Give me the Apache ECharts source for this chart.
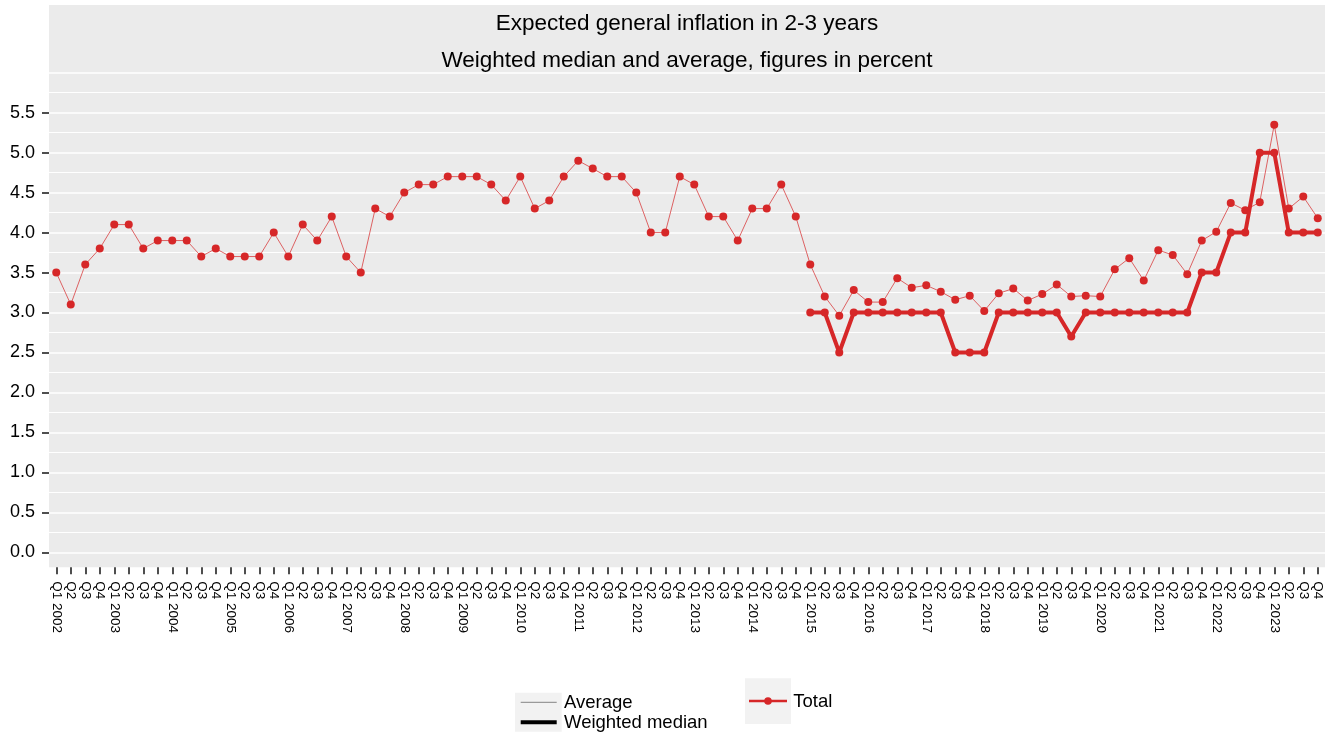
<!DOCTYPE html>
<html>
<head>
<meta charset="utf-8">
<script src="https://cdn.jsdelivr.net/npm/echarts@6/dist/echarts.min.js"></script>
<style>html,body{margin:0;padding:0;background:#fff}#c{width:1333px;height:736px}</style>
</head>
<body>
<div id="c"></div>
<script>
// ---------- data ----------
const years = [2002,2003,2004,2005,2006,2007,2008,2009,2010,2011,2012,2013,2014,2015,2016,2017,2018,2019,2020,2021,2022,2023];
const quarters = ['Q1','Q2','Q3','Q4'];
const categories = [];
years.forEach(function (y) { quarters.forEach(function (q) { categories.push(q === 'Q1' ? q + ' ' + y : q); }); });

const averageValues = [
  3.5,3.1,3.6,3.8, 4.1,4.1,3.8,3.9, 3.9,3.9,3.7,3.8, 3.7,3.7,3.7,4.0, 3.7,4.1,3.9,4.2, 3.7,3.5,4.3,4.2, 4.5,4.6,4.6,4.7,
  4.7,4.7,4.6,4.4, 4.7,4.3,4.4,4.7, 4.9,4.8,4.7,4.7, 4.5,4.0,4.0,4.7, 4.6,4.2,4.2,3.9, 4.3,4.3,4.6,4.2,
  3.6,3.2,2.96,3.28, 3.13,3.13,3.43,3.31, 3.34,3.26,3.16,3.21, 3.02,3.24,3.30,3.15, 3.23,3.35,3.20,3.21,
  3.20,3.54,3.68,3.40, 3.78,3.72,3.48,3.90, 4.01,4.37,4.28,4.38, 5.35,4.30,4.45,4.18
];
const medianStartCategory = 'Q1 2015';
const medianValues = [
  3.0,3.0,2.5,3.0, 3.0,3.0,3.0,3.0, 3.0,3.0,2.5,2.5, 2.5,3.0,3.0,3.0, 3.0,3.0,2.7,3.0,
  3.0,3.0,3.0,3.0, 3.0,3.0,3.0,3.5, 3.5,4.0,4.0,5.0, 5.0,4.0,4.0,4.0
];
const yTickValues = [0,0.5,1,1.5,2,2.5,3,3.5,4,4.5,5,5.5];
const titleLines = ['Expected general inflation in 2-3 years', 'Weighted median and average, figures in percent'];
const legendLabels = ['Average', 'Weighted median', 'Total'];

// ---------- layout / style ----------
const RED = '#D62728';
const PANEL = { left: 49, right: 1325, top: 5, bottom: 567.3 };
const Y0_PX = 552.3, YMAX_PX = 72.7, YMAX = 6;
const FONT = 'Liberation Sans, Arial, sans-serif';

const medianOffset = categories.indexOf(medianStartCategory);
const averageData = averageValues.map(function (v, i) { return [i, v]; });
const medianData = medianValues.map(function (v, i) { return [medianOffset + i, v]; });

const chart = echarts.init(document.getElementById('c'), null, { renderer: 'canvas' });
const option = {
  animation: false,
  backgroundColor: '#ffffff',
  title: [
    { text: titleLines[0], left: 687, top: 12.7, padding: 0, textAlign: 'center',
      textStyle: { fontSize: 22.5, fontWeight: 'normal', color: '#000', fontFamily: FONT } },
    { text: titleLines[1], left: 687, top: 49.3, padding: 0, textAlign: 'center',
      textStyle: { fontSize: 22.5, fontWeight: 'normal', color: '#000', fontFamily: FONT } }
  ],
  grid: [
    { left: PANEL.left, right: 1333 - PANEL.right, top: YMAX_PX, bottom: 736 - Y0_PX, containLabel: false },
    { left: PANEL.left, right: 1333 - PANEL.right, top: PANEL.bottom - 20, bottom: 736 - PANEL.bottom, containLabel: false }
  ],
  xAxis: [
    {
      type: 'category', gridIndex: 0, data: categories, boundaryGap: true,
      axisLine: { show: false }, axisTick: { show: false }, axisLabel: { show: false }, splitLine: { show: false }
    },
    {
      type: 'category', gridIndex: 1, data: categories, boundaryGap: true, position: 'bottom',
      axisLine: { show: false },
      axisTick: { show: true, alignWithLabel: true, interval: 0, length: 7, lineStyle: { color: '#222', width: 1.6 } },
      axisLabel: { interval: 0, rotate: -90, margin: 14, fontSize: 13.5, color: '#000', fontFamily: FONT },
      splitLine: { show: false }
    }
  ],
  yAxis: [
    {
      type: 'value', gridIndex: 0, min: 0, max: YMAX, interval: 0.5,
      axisLine: { show: false }, axisTick: { show: false }, axisLabel: { show: false },
      splitLine: { show: true, lineStyle: { color: '#ffffff', width: 1.6 } },
      minorTick: { show: false, splitNumber: 2 },
      minorSplitLine: { show: true, lineStyle: { color: '#ffffff', width: 1 } }
    },
    {
      type: 'value', gridIndex: 0, min: 0, max: YMAX, interval: 0.5, position: 'left',
      axisLine: { show: false },
      splitLine: { show: false },
      axisTick: { show: true, length: 7, customValues: yTickValues, lineStyle: { color: '#222', width: 1.6 } },
      axisLabel: { show: true, margin: 14, customValues: yTickValues, fontSize: 18, color: '#000', fontFamily: FONT,
        formatter: function (v) { return v < YMAX ? v.toFixed(1) : ''; } }
    },
    {
      type: 'value', gridIndex: 1, min: 0, max: 1, show: false,
      splitLine: { show: false }
    }
  ],
  graphic: [
    { type: 'rect', z: -100, silent: true,
      shape: { x: PANEL.left, y: PANEL.top, width: PANEL.right - PANEL.left, height: PANEL.bottom - PANEL.top },
      style: { fill: '#EBEBEB' } },
    // legend 1
    { type: 'rect', silent: true, shape: { x: 515, y: 692.7, width: 46.7, height: 39 }, style: { fill: '#F2F2F2' } },
    { type: 'line', silent: true, shape: { x1: 520.7, y1: 702.3, x2: 556.7, y2: 702.3 }, style: { stroke: '#9a9a9a', lineWidth: 1.2 } },
    { type: 'line', silent: true, shape: { x1: 520.7, y1: 722.3, x2: 556.7, y2: 722.3 }, style: { stroke: '#000', lineWidth: 4 } },
    { type: 'text', silent: true, x: 564, y: 702.9, style: { text: legendLabels[0], fill: '#000', font: '18.5px ' + FONT, textVerticalAlign: 'middle', textAlign: 'left' } },
    { type: 'text', silent: true, x: 564, y: 722.9, style: { text: legendLabels[1], fill: '#000', font: '18.5px ' + FONT, textVerticalAlign: 'middle', textAlign: 'left' } },
    // legend 2
    { type: 'rect', silent: true, shape: { x: 745, y: 678.3, width: 46, height: 45.7 }, style: { fill: '#F2F2F2' } },
    { type: 'line', silent: true, shape: { x1: 749, y1: 701, x2: 787, y2: 701 }, style: { stroke: RED, lineWidth: 2.5 } },
    { type: 'circle', silent: true, shape: { cx: 768, cy: 701, r: 3.8 }, style: { fill: RED } },
    { type: 'text', silent: true, x: 793.3, y: 701.9, style: { text: legendLabels[2], fill: '#000', font: '18.5px ' + FONT, textVerticalAlign: 'middle', textAlign: 'left' } }
  ],
  series: [
    {
      name: 'Average', type: 'line', data: averageData, xAxisIndex: 0, yAxisIndex: 0,
      symbol: 'circle', symbolSize: 8, showAllSymbol: true,
      lineStyle: { color: RED, width: 1, opacity: 0.7 },
      itemStyle: { color: RED },
      z: 3
    },
    {
      name: 'Weighted median', type: 'line', data: medianData, xAxisIndex: 0, yAxisIndex: 0,
      symbol: 'circle', symbolSize: 8, showAllSymbol: true,
      lineStyle: { color: RED, width: 4 },
      itemStyle: { color: RED },
      z: 4
    }
  ]
};
chart.setOption(option);
</script>
</body>
</html>
